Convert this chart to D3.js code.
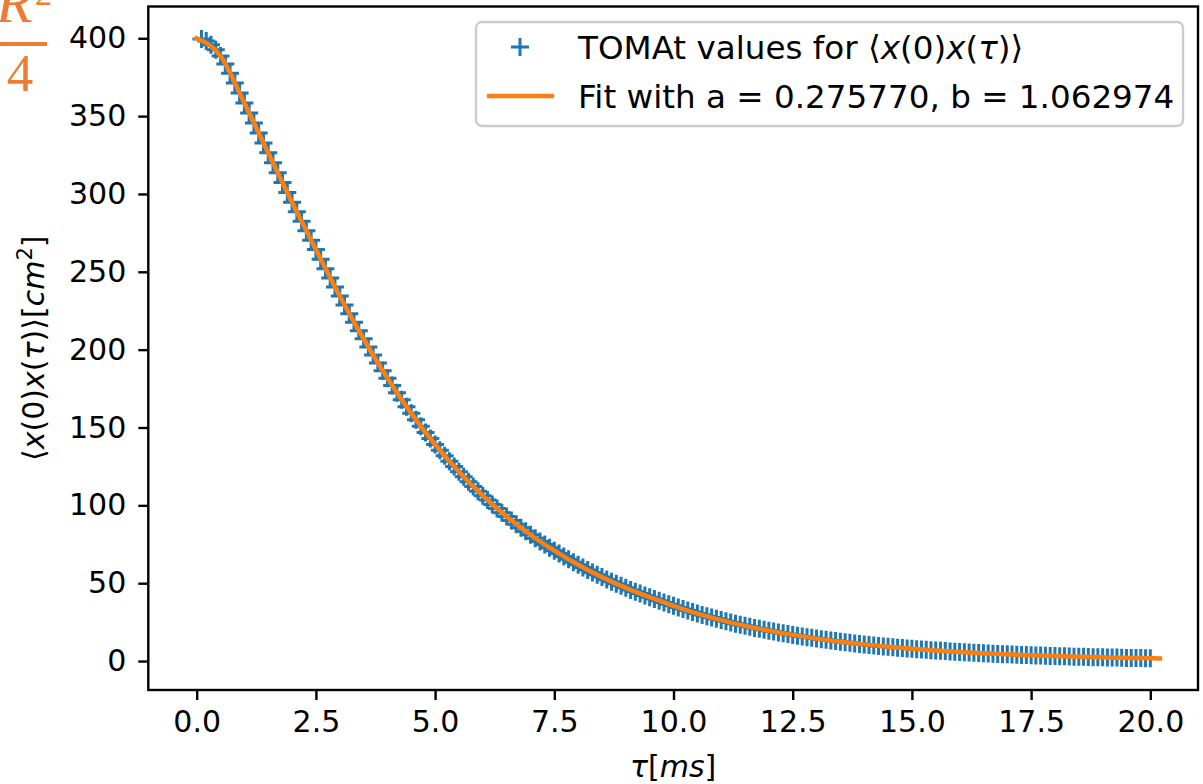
<!DOCTYPE html>
<html>
<head>
<meta charset="utf-8">
<script src="https://cdn.jsdelivr.net/npm/d3@7"></script>
<style>
  body { margin: 0; background: #fff; }
  text { font-family: "DejaVu Sans", sans-serif; }
</style>
</head>
<body>
<div id="chart"></div>
<script>
// sampling grid of the TOMAt points (ms)
const tauStart = 0.1, tauStep = 0.1;
// TOMAt values for <x(0)x(tau)>, one per marker
const tomatValues = [
  399.5, 398.2, 395.9, 392.7, 388.6, 383.5, 377.6, 371.2, 364.8, 358.4,
  352.0, 345.6, 339.2, 332.8, 326.4, 320.0, 313.6, 307.3, 301.0, 294.7,
  288.5, 282.4, 276.3, 270.3, 264.4, 258.1, 252.0, 246.0, 240.2, 234.5,
  228.7, 223.1, 217.6, 212.2, 207.0, 201.7, 196.5, 191.4, 186.5, 181.7,
  176.9, 172.3, 167.8, 163.4, 159.1, 154.9, 150.8, 146.8, 142.9, 139.1,
  135.4, 131.8, 128.3, 124.9, 121.6, 118.4, 115.2, 112.1, 109.1, 106.2,
  103.4, 100.6, 97.9, 95.3, 92.8, 90.3, 87.9, 85.6, 83.3, 81.1,
  78.9, 76.8, 74.8, 72.8, 70.9, 69.0, 67.1, 65.3, 63.5, 61.8,
  60.1, 58.5, 56.9, 55.4, 53.9, 52.4, 51.0, 49.6, 48.3, 47.0,
  45.7, 44.5, 43.3, 42.1, 41.0, 39.8, 38.7, 37.6, 36.5, 35.5,
  34.4, 33.4, 32.4, 31.5, 30.5, 29.6, 28.8, 27.9, 27.1, 26.3,
  25.5, 24.8, 24.0, 23.3, 22.6, 22.0, 21.3, 20.7, 20.1, 19.5,
  18.9, 18.3, 17.8, 17.3, 16.8, 16.3, 15.8, 15.3, 14.9, 14.4,
  14.0, 13.6, 13.2, 12.8, 12.4, 12.0, 11.7, 11.3, 11.0, 10.7,
  10.3, 10.0, 9.7, 9.4, 9.2, 8.9, 8.6, 8.4, 8.1, 7.9,
  7.6, 7.4, 7.2, 7.0, 6.8, 6.6, 6.4, 6.2, 6.0, 5.8,
  5.7, 5.5, 5.3, 5.2, 5.0, 4.9, 4.7, 4.6, 4.4, 4.3,
  4.2, 4.0, 3.9, 3.8, 3.7, 3.6, 3.5, 3.4, 3.3, 3.2,
  3.1, 3.0, 2.9, 2.8, 2.8, 2.7, 2.6, 2.5, 2.5, 2.4,
  2.3, 2.2, 2.2, 2.1, 2.0, 2.0, 1.9, 1.9, 1.8, 1.8
];
// fit curve, sampled where it was read
const fitTau = [0, 0.5, 1, 1.5, 2, 2.5, 3, 3.5, 4, 4.5, 5, 5.5, 6, 6.5, 7, 7.5, 8, 8.5, 9, 9.5,
  10, 10.5, 11, 11.5, 12, 12.5, 13, 13.5, 14, 14.5, 15, 15.5, 16, 16.5, 17, 17.5, 18, 18.5, 19, 19.5, 20, 20.2];
const fitValues = [400, 388.6, 358.4, 326.4, 294.7, 264.4, 234.5, 207.0, 181.7, 159.1, 139.1, 121.6, 106.2, 92.8, 81.1, 70.9,
  61.8, 53.9, 47.0, 41.0, 35.5, 30.5, 26.3, 22.6, 19.5, 16.8, 14.4, 12.4, 10.7, 9.2, 7.9, 6.8, 5.8, 5.0, 4.3, 3.7,
  3.2, 2.8, 2.4, 2.0, 1.8, 1.7];
const xTicks = [0, 2.5, 5, 7.5, 10, 12.5, 15, 17.5, 20];
const yTicks = [0, 50, 100, 150, 200, 250, 300, 350, 400];
const legendLabels = ["TOMAt values for ", "Fit with a = 0.275770, b = 1.062974"];

const width = 1203, height = 784;
const plot = { left: 148.3, right: 1198, top: 6.5, bottom: 690 };
const blue = "#1f77b4", orange = "#ff7f0e";
const fontSize = 30, legendFont = 32.6;

const svg = d3.select("#chart").append("svg")
  .attr("width", width).attr("height", height);
svg.append("rect").attr("width", width).attr("height", height).attr("fill", "#fff");

const x = d3.scaleLinear().domain([-1.015, 21.0]).range([plot.left, plot.right]);
const y = d3.scaleLinear().domain([-18.6, 420.4]).range([plot.bottom, plot.top]);

svg.append("clipPath").attr("id", "clip")
  .append("rect")
  .attr("x", plot.left).attr("y", plot.top)
  .attr("width", plot.right - plot.left).attr("height", plot.bottom - plot.top);

const points = tomatValues.map((v, i) => ({ tau: tauStart + i * tauStep, v: v }));
const fit = fitTau.map((t, i) => ({ tau: t, v: fitValues[i] }));

const plus = "M-9,0H9M0,-9V9";
const g = svg.append("g").attr("clip-path", "url(#clip)");
g.selectAll("path.pt")
  .data(points)
  .join("path")
  .attr("class", "pt")
  .attr("d", plus)
  .attr("transform", d => `translate(${x(d.tau)},${y(d.v)})`)
  .attr("stroke", blue)
  .attr("stroke-width", 3)
  .attr("fill", "none");

const line = d3.line().x(d => x(d.tau)).y(d => y(d.v)).curve(d3.curveMonotoneX);
g.append("path")
  .datum(fit)
  .attr("d", line)
  .attr("fill", "none")
  .attr("stroke", orange)
  .attr("stroke-width", 4.5)
  .attr("stroke-linecap", "square");

// axes
const xAxis = d3.axisBottom(x).tickValues(xTicks).tickFormat(d3.format(".1f")).tickSize(10).tickPadding(11);
const yAxis = d3.axisLeft(y).tickValues(yTicks).tickFormat(d3.format("d")).tickSize(10).tickPadding(12);

const gx = svg.append("g").attr("transform", `translate(0,${plot.bottom})`).call(xAxis);
const gy = svg.append("g").attr("transform", `translate(${plot.left},0)`).call(yAxis);
[gx, gy].forEach(a => {
  a.select(".domain").remove();
  a.selectAll(".tick line").attr("stroke", "#000").attr("stroke-width", 2.4);
  a.selectAll(".tick text").attr("fill", "#000").style("font-size", fontSize + "px")
    .style("font-family", "'DejaVu Sans', sans-serif");
});

// spines
svg.append("rect")
  .attr("x", plot.left).attr("y", plot.top)
  .attr("width", plot.right - plot.left).attr("height", plot.bottom - plot.top)
  .attr("fill", "none").attr("stroke", "#000").attr("stroke-width", 2.4);

// axis labels
const xl = svg.append("text")
  .attr("x", (plot.left + plot.right) / 2).attr("y", 777)
  .attr("text-anchor", "middle").style("font-size", fontSize + "px");
xl.append("tspan").attr("font-style", "italic").text("τ");
xl.append("tspan").text("[");
xl.append("tspan").attr("font-style", "italic").text("ms");
xl.append("tspan").text("]");

const yl = svg.append("text")
  .attr("transform", `translate(44,${(plot.top + plot.bottom) / 2}) rotate(-90)`)
  .attr("text-anchor", "middle").style("font-size", fontSize + "px");
function mathLabel(t) {
  t.append("tspan").text("⟨");
  t.append("tspan").attr("font-style", "italic").text("x");
  t.append("tspan").text("(0)");
  t.append("tspan").attr("font-style", "italic").text("x");
  t.append("tspan").text("(");
  t.append("tspan").attr("font-style", "italic").text("τ");
  t.append("tspan").text(")⟩");
}
mathLabel(yl);
yl.append("tspan").text("[");
yl.append("tspan").attr("font-style", "italic").text("cm");
yl.append("tspan").attr("baseline-shift", "super").style("font-size", "21px").text("2");
yl.append("tspan").text("]");

// legend
const lg = svg.append("g");
lg.append("rect")
  .attr("x", 476).attr("y", 22).attr("width", 707).attr("height", 104).attr("rx", 6)
  .attr("fill", "#fff").attr("fill-opacity", 0.8)
  .attr("stroke", "#cccccc").attr("stroke-width", 2.4);
lg.append("path").attr("d", plus).attr("transform", "translate(520,47)")
  .attr("stroke", blue).attr("stroke-width", 3).attr("fill", "none");
lg.append("line").attr("x1", 487).attr("x2", 554).attr("y1", 96).attr("y2", 96)
  .attr("stroke", orange).attr("stroke-width", 4.5);
const l1 = lg.append("text").attr("x", 578).attr("y", 59).style("font-size", legendFont + "px");
l1.append("tspan").text(legendLabels[0]);
mathLabel(l1);
lg.append("text").attr("x", 578).attr("y", 108).style("font-size", legendFont + "px").text(legendLabels[1]);

// pasted R^2/4 note, top left
const note = svg.append("g").attr("fill", "#ED7D31")
  .style("font-family", "'Liberation Serif', serif");
note.append("text").attr("x", -4).attr("y", 22).style("font-size", "60px")
  .attr("font-style", "italic").style("font-family", "'Liberation Serif', serif").text("R");
note.append("text").attr("x", 35).attr("y", 5).style("font-size", "34px")
  .style("font-family", "'Liberation Serif', serif").text("2");
note.append("rect").attr("x", 0).attr("y", 42).attr("width", 47).attr("height", 4);
note.append("text").attr("x", 20).attr("y", 90.5).attr("text-anchor", "middle")
  .style("font-size", "53px").style("font-family", "'Liberation Serif', serif").text("4");
</script>
</body>
</html>
